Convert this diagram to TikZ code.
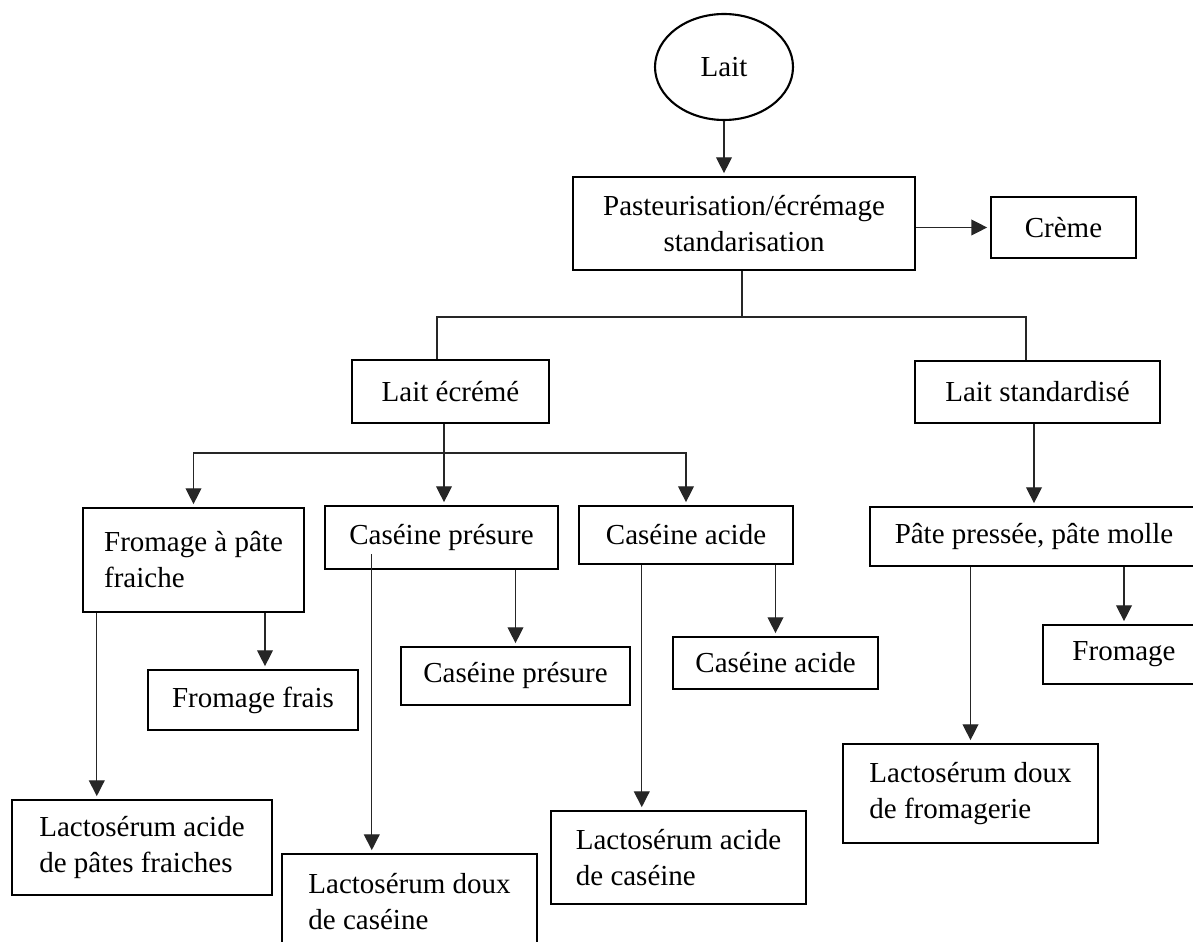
\documentclass[tikz,border=0pt]{standalone}
\usepackage{fontspec}
\setmainfont{Liberation Serif}
\usetikzlibrary{positioning, arrows.meta, calc, shapes.geometric}

\begin{document}
\begin{tikzpicture}[
    x=0.02cm, y=-0.02cm,
    every node/.style={font=\fontsize{16.5}{20.5}\selectfont},
    box/.style={draw, line width=1.4pt, inner sep=0pt, align=center},
    link/.style={line width=0.75pt, black!85},
    flow/.style={link, shorten >=1.5pt, -{Triangle[length=9pt, width=9pt]}}
  ]
  \useasboundingbox (0,0) rectangle (1193,942);

  % ============================================================
  %  Milk and first treatment
  % ============================================================
  \node[ellipse, draw, line width=1.2pt, inner sep=0pt,
        minimum width=2.76cm, minimum height=2.12cm] (lait) at (724,67) {Lait};
  \node[box, minimum width=6.84cm, minimum height=1.86cm]
    (pasteur) at (744,223.5) {Pasteurisation/écrémage\\standarisation};
  \node[box, minimum width=2.9cm, minimum height=1.22cm]
    (creme) at (1063.5,227.5) {Crème};

  % ============================================================
  %  Skimmed / standardised milk
  % ============================================================
  \node[box, minimum width=3.94cm, minimum height=1.26cm]
    (ecreme) at (450.5,391.5) {Lait écrémé};
  \node[box, minimum width=4.9cm, minimum height=1.24cm]
    (standard) at (1037.5,392) {Lait standardisé};

  % --- transformation ---
  \node[box, align=left, minimum width=4.42cm, minimum height=2.08cm]
    (fpf) at (193.5,560) {Fromage à pâte\\fraiche};
  \node[box, minimum width=4.66cm, minimum height=1.26cm]
    (cpres) at (441.5,537.5) {Caséine présure};
  \node[box, minimum width=4.28cm, minimum height=1.16cm]
    (cacid) at (686,535) {Caséine acide};
  \node[box, minimum width=6.56cm, minimum height=1.18cm]
    (ppm) at (1034,536.5) {Pâte pressée, pâte molle};

  % --- products ---
  \node[box, minimum width=4.2cm, minimum height=1.2cm]
    (ffrais) at (253,700) {Fromage frais};
  \node[box, minimum width=4.58cm, minimum height=1.16cm]
    (cpres2) at (515.5,676) {Caséine présure};
  \node[box, minimum width=4.1cm, minimum height=1.04cm]
    (cacid2) at (775.5,663) {Caséine acide};
  \node[box, minimum width=3.24cm, minimum height=1.18cm]
    (fromage) at (1124,654.5) {Fromage};

  % --- whey ---
  \node[box, align=left, minimum width=5.2cm, minimum height=1.9cm]
    (lapf) at (142,847.5) {Lactosérum acide\\de pâtes fraiches};
  \node[box, align=left, minimum width=5.1cm, minimum height=1.9cm]
    (ldc) at (409.5,901.5) {Lactosérum doux\\de caséine};
  \node[box, align=left, minimum width=5.1cm, minimum height=1.86cm]
    (lac) at (678.5,857.5) {Lactosérum acide\\de caséine};
  \node[box, align=left, minimum width=5.1cm, minimum height=1.98cm]
    (ldf) at (970.5,793.5) {Lactosérum doux\\de fromagerie};

  % ============================================================
  %  Connectors
  % ============================================================
  \coordinate (bus1) at (742,317);
  \coordinate (bus2) at (444,453);
  \coordinate (ecin) at ([xshift=-0.27cm]ecreme.north);
  \coordinate (stin) at ([xshift=-0.23cm]standard.north);
  \coordinate (frin) at ([xshift=0.24cm]ffrais.north);
  \coordinate (fpfout) at ([xshift=0.3cm]fpf.south west);
  \coordinate (cpout) at ([xshift=0.96cm, yshift=0.32cm]cpres.south west);
  \coordinate (caout) at ([xshift=1.28cm]cacid.south west);

  \draw[flow] (lait.south) -- (lait.south |- pasteur.north);
  \draw[flow] (creme.west -| pasteur.east) -- (creme.west);

  \draw[link] (bus1 |- pasteur.south) -- (bus1);
  \draw[link] (ecin) |- (bus1) -| (stin);

  \draw[link] (bus2 |- ecreme.south) -- (bus2);
  \draw[flow] (bus2) -- (bus2 |- cpres.north);
  \draw[flow] (bus2) -| (fpf.north);
  \draw[flow] (bus2) -| (cacid.north);

  \draw[flow] (standard.south -| ppm.north) -- (ppm.north);

  \draw[flow] (frin |- fpf.south) -- (frin);
  \draw[flow] (fpfout) -- (fpfout |- lapf.north);
  \draw[flow] (cpres2.north |- cpres.south) -- (cpres2.north);
  \draw[flow] (cpout) -- (cpout |- ldc.north);
  \draw[flow] (cacid2.north |- cacid.south) -- (cacid2.north);
  \draw[flow] (caout) -- (caout |- lac.north);
  \draw[flow] (ldf.north |- ppm.south) -- (ldf.north);
  \draw[flow] (fromage.north |- ppm.south) -- (fromage.north);

\end{tikzpicture}
\end{document}
